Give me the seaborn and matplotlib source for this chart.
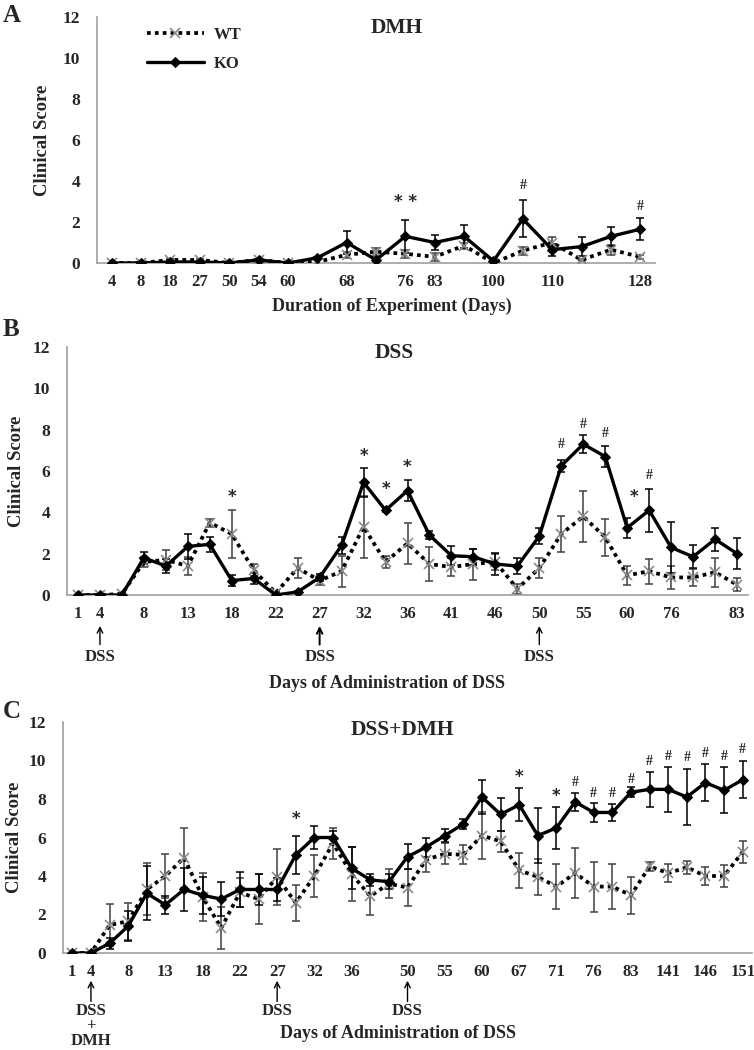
import numpy as np
import pandas as pd
import matplotlib
matplotlib.use("Agg")
import matplotlib.pyplot as plt
import seaborn as sns

# ---- panel A : DMH ----
a_labels = ["4", "8", "18", "27", "50", "54", "60", "", "68", "", "76", "83", "", "100", "", "110", "", "", "128"]
a_ko = [0, 0, 0.05, 0.05, 0, 0.15, 0, 0.25, 1.0, 0.15, 1.3, 1.0, 1.3, 0.1, 2.15, 0.65, 0.8, 1.3, 1.65]
a_ko_err = [0, 0, 0, 0, 0, 0, 0, 0.05, 0.55, 0.05, 0.8, 0.35, 0.55, 0.05, 0.9, 0.3, 0.45, 0.45, 0.55]
a_wt = [0, 0, 0.15, 0.15, 0, 0.15, 0, 0.05, 0.4, 0.55, 0.45, 0.3, 0.85, 0, 0.6, 1.0, 0.15, 0.65, 0.3]
a_wt_err = [0, 0, 0.05, 0.05, 0, 0.05, 0, 0, 0.15, 0.2, 0.2, 0.2, 0.15, 0, 0.2, 0.25, 0.05, 0.25, 0.1]
a_marks = [(10, 2.55, "* *"), (14, 3.45, "#"), (18, 2.45, "#")]

# ---- panel B : DSS ----
b_labels = ["1", "4", "", "8", "", "13", "", "18", "", "22", "", "27", "", "32", "", "36", "",
            "41", "", "46", "", "50", "", "55", "", "60", "", "76", "", "", "83"]
b_ko = [0, 0, 0, 1.8, 1.4, 2.35, 2.45, 0.7, 0.8, 0, 0.15, 0.85, 2.4, 5.45, 4.1, 5.05, 2.9,
        1.9, 1.85, 1.5, 1.4, 2.85, 6.25, 7.3, 6.7, 3.25, 4.1, 2.3, 1.85, 2.7, 2.0]
b_ko_err = [0, 0, 0, 0.3, 0.35, 0.6, 0.35, 0.25, 0.25, 0, 0.05, 0.15, 0.4, 0.7, 0.1, 0.5, 0.2,
            0.45, 0.4, 0.55, 0.4, 0.4, 0.3, 0.45, 0.5, 0.5, 1.05, 1.25, 0.55, 0.55, 0.75]
b_wt = [0, 0, 0.05, 1.6, 1.7, 1.4, 3.5, 2.95, 1.2, 0.1, 1.3, 0.7, 1.15, 3.3, 1.6, 2.5, 1.5,
        1.35, 1.5, 1.6, 0.3, 1.3, 2.95, 3.8, 2.8, 0.95, 1.15, 0.85, 0.85, 1.1, 0.5]
b_wt_err = [0, 0, 0.05, 0.25, 0.5, 0.45, 0.2, 1.15, 0.3, 0.05, 0.5, 0.2, 0.75, 1.5, 0.3, 1.0, 0.8,
            0.45, 0.75, 0.4, 0.25, 0.5, 0.85, 1.25, 0.9, 0.45, 0.6, 0.55, 0.4, 0.7, 0.3]
b_marks = [(7, 4.3, "*"), (13, 6.3, "*"), (14, 4.7, "*"), (15, 5.75, "*"), (22, 6.95, "#"),
           (23, 7.95, "#"), (24, 7.5, "#"), (25.3, 4.3, "*"), (26, 5.45, "#")]

# ---- panel C : DSS+DMH ----
c_labels = ["1", "4", "", "8", "", "13", "", "18", "", "22", "", "27", "", "32", "", "36", "", "",
            "50", "", "55", "", "60", "", "67", "", "71", "", "76", "", "83", "", "141", "", "146", "", "151"]
c_ko = [0, 0, 0.5, 1.4, 3.1, 2.5, 3.3, 3.0, 2.8, 3.3, 3.3, 3.3, 5.1, 6.0, 6.0, 4.4, 3.8, 3.7,
        5.0, 5.5, 6.1, 6.7, 8.1, 7.2, 7.7, 6.1, 6.5, 7.85, 7.3, 7.3, 8.35, 8.5, 8.5, 8.1, 8.85, 8.45, 9.0]
c_ko_err = [0, 0, 0.3, 0.8, 1.4, 0.45, 1.1, 0.95, 0.9, 0.9, 0.8, 0.6, 1.0, 0.6, 0.35, 1.1, 0.3, 0.4,
            0.65, 0.5, 0.35, 0.25, 0.9, 0.85, 0.85, 1.45, 1.1, 0.45, 0.5, 0.45, 0.25, 0.9, 1.15, 1.45, 0.95, 1.2, 0.95]
c_wt = [0, 0, 1.45, 1.65, 3.3, 4.0, 4.95, 2.9, 1.3, 3.15, 2.8, 3.95, 2.6, 4.0, 5.7, 4.1, 2.95, 3.6,
        3.4, 4.85, 5.15, 5.1, 6.1, 5.8, 4.3, 3.95, 3.45, 4.15, 3.45, 3.45, 3.0, 4.5, 4.15, 4.45, 4.0, 4.0, 5.25]
c_wt_err = [0, 0, 1.1, 0.95, 1.35, 1.15, 1.55, 1.25, 1.1, 0.75, 1.3, 1.45, 0.95, 1.1, 0.8, 1.4, 1.0, 0.75,
            0.95, 0.65, 0.55, 0.5, 1.2, 0.55, 0.9, 0.95, 1.15, 1.3, 1.3, 1.15, 0.95, 0.25, 0.45, 0.35, 0.45, 0.55, 0.55]
c_marks = [(12, 6.5, "*"), (24, 8.65, "*"), (26, 7.7, "*"), (27, 8.5, "#"), (28, 7.95, "#"),
           (29, 7.95, "#"), (30, 8.7, "#"), (31, 9.6, "#"), (32, 9.85, "#"), (33, 9.8, "#"),
           (34, 10.05, "#"), (35, 9.85, "#"), (36, 10.25, "#")]

sns.set_style("white")
plt.rcParams["font.family"] = ["Liberation Serif", "DejaVu Serif"]
plt.rcParams["font.weight"] = "bold"
plt.rcParams["axes.labelweight"] = "bold"

W, H = 754, 1050
fig = plt.figure(figsize=(W / 100, H / 100), dpi=100)


def px_axes(left, right, top, bottom):
    # axes box given in pixel coords of the picture
    return fig.add_axes([left / W, 1 - bottom / H, (right - left) / W, (bottom - top) / H])


def draw_panel(ax, labels, ko, ko_err, wt, wt_err, marks):
    n = len(labels)
    df = pd.DataFrame({"pos": np.arange(n), "KO": ko, "KO_err": ko_err, "WT": wt, "WT_err": wt_err})

    # error bars first, lines on top
    for col, ecol in [("WT", "#404040"), ("KO", "black")]:
        sub = df[df[col + "_err"] > 0]
        ax.errorbar(sub["pos"], sub[col], yerr=sub[col + "_err"], fmt="none",
                    ecolor=ecol, elinewidth=1.1, capsize=3, capthick=1.1, zorder=2)

    sns.lineplot(data=df, x="pos", y="WT", ax=ax, color="black", lw=2.7,
                 linestyle=(0, (1, 1.1)), marker="x", markersize=7,
                 markeredgecolor="#8a8a8a", markeredgewidth=1.2, label="WT", zorder=3)
    sns.lineplot(data=df, x="pos", y="KO", ax=ax, color="black", lw=2.4,
                 marker="D", markersize=5.5, markeredgecolor="black", label="KO", zorder=4)

    for x, y, s in marks:
        ax.text(x, y, s, ha="center", va="bottom", fontsize=12 if "*" in s else 10,
                fontweight="bold", family="DejaVu Sans" if "*" in s else None)

    ax.set_xlim(-0.5, n - 0.5)
    ax.set_ylim(0, 12)
    ax.set_yticks(range(0, 13, 2))
    ax.set_xticks(np.arange(n))
    ax.set_xticklabels(labels)
    ax.set_xticks(np.arange(n + 1) - 0.5, minor=True)
    ax.tick_params(axis="x", which="major", length=0, pad=8, labelsize=12)
    ax.tick_params(axis="x", which="minor", length=5, width=1, color="#a0a0a0", direction="out")
    ax.tick_params(axis="y", which="major", length=5, width=1, color="#a0a0a0", direction="out",
                   labelsize=12.5, pad=7)
    for lab in ax.get_xticklabels() + ax.get_yticklabels():
        lab.set_fontweight("bold")
    sns.despine(ax=ax)
    for sp in ["left", "bottom"]:
        ax.spines[sp].set_color("#a0a0a0")
        ax.spines[sp].set_linewidth(1.2)
    ax.set_xlabel("")
    ax.set_ylabel("Clinical Score", fontsize=13.5, fontweight="bold")
    return ax


# panel A
axA = px_axes(97, 655, 17, 263)
draw_panel(axA, a_labels, a_ko, a_ko_err, a_wt, a_wt_err, a_marks)
axA.yaxis.set_label_coords(-0.083, 0.5)
leg = axA.legend(loc="upper left", bbox_to_anchor=(132 / W, 1 - 12 / H), bbox_transform=fig.transFigure,
                 frameon=False, handlelength=3.4, handletextpad=0.6, labelspacing=0.75,
                 prop={"size": 12, "weight": "bold"})
fig.text(397 / W, 1 - 28 / H, "DMH", ha="center", va="center", fontsize=15.5, fontweight="bold")
fig.text(392 / W, 1 - 306 / H, "Duration of Experiment (Days)", ha="center", va="center",
         fontsize=13, fontweight="bold")
fig.text(3 / W, 1 - 16 / H, "A", ha="left", va="center", fontsize=18, fontweight="bold")

# panel B
axB = px_axes(67, 748, 347, 595)
draw_panel(axB, b_labels, b_ko, b_ko_err, b_wt, b_wt_err, b_marks)
axB.get_legend().remove()
axB.yaxis.set_label_coords(-0.062, 0.5)
fig.text(394 / W, 1 - 353 / H, "DSS", ha="center", va="center", fontsize=15.5, fontweight="bold")
fig.text(387 / W, 1 - 683 / H, "Days of Administration of DSS", ha="center", va="center",
         fontsize=13, fontweight="bold")
fig.text(3 / W, 1 - 330 / H, "B", ha="left", va="center", fontsize=18, fontweight="bold")
for xi in [1, 11, 21]:
    axB.annotate("", xy=(xi, -0.125), xytext=(xi, -0.2), xycoords=axB.get_xaxis_transform(),
                 textcoords=axB.get_xaxis_transform(),
                 arrowprops=dict(arrowstyle="->", color="black", lw=1.4 if xi == 11 else 1.0,
                                 shrinkA=0, shrinkB=0))
    axB.text(xi, -0.25, "DSS", transform=axB.get_xaxis_transform(), ha="center", va="center",
             fontsize=12, fontweight="bold")

# panel C
axC = px_axes(63, 752, 722, 953)
draw_panel(axC, c_labels, c_ko, c_ko_err, c_wt, c_wt_err, c_marks)
axC.get_legend().remove()
axC.yaxis.set_label_coords(-0.058, 0.5)
fig.text(402 / W, 1 - 730 / H, "DSS+DMH", ha="center", va="center", fontsize=15.5, fontweight="bold")
fig.text(398 / W, 1 - 1033 / H, "Days of Administration of DSS", ha="center", va="center",
         fontsize=13, fontweight="bold")
fig.text(3 / W, 1 - 712 / H, "C", ha="left", va="center", fontsize=18, fontweight="bold")
for xi in [1, 11, 18]:
    axC.annotate("", xy=(xi, -0.12), xytext=(xi, -0.21), xycoords=axC.get_xaxis_transform(),
                 textcoords=axC.get_xaxis_transform(),
                 arrowprops=dict(arrowstyle="->", color="black", lw=1.0, shrinkA=0, shrinkB=0))
    axC.text(xi, -0.25, "DSS", transform=axC.get_xaxis_transform(), ha="center", va="center",
             fontsize=12, fontweight="bold")
axC.text(1, -0.315, "+", transform=axC.get_xaxis_transform(), ha="center", va="center",
         fontsize=12, fontweight="bold")
axC.text(1, -0.38, "DMH", transform=axC.get_xaxis_transform(), ha="center", va="center",
         fontsize=12, fontweight="bold")

fig.savefig("out.png", dpi=100, facecolor="white")
